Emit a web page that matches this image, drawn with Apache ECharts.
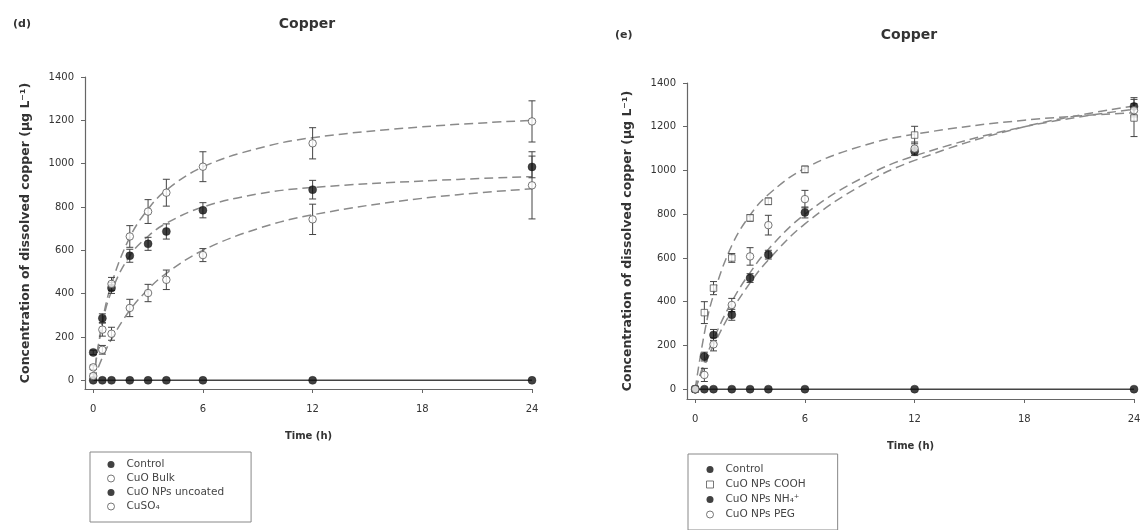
<!DOCTYPE html>
<html><head><meta charset="utf-8">
<script src="https://cdn.jsdelivr.net/npm/echarts@6/dist/echarts.min.js"></script>
<style>html,body{margin:0;padding:0;background:#fff}#c{width:1144px;height:530px}</style>
</head><body><div id="c"></div><script>
// ---------- data ----------
const times = [0, 0.5, 1, 2, 3, 4, 6, 12, 24];
const fitTimes = [0, 0.5, 1, 2, 3, 4, 6, 9, 12, 18, 24];
const xTicks = [0, 6, 12, 18, 24];
const yTicks = [0, 200, 400, 600, 800, 1000, 1200, 1400];

// panel (d)
const dControl = [0, 0, 0, 0, 0, 0, 0, 0, 0];
const dBulk = [20, 141, 215, 334, 403, 464, 578, 743, 900];
const dBulkErr = [10, 20, 30, 40, 40, 45, 30, 70, 155];
const dUncoated = [129, 287, 426, 575, 630, 687, 785, 880, 985];
const dUncoatedErr = [10, 20, 25, 30, 30, 35, 35, 43, 50];
const dCuSO4 = [60, 234, 445, 664, 779, 866, 986, 1094, 1195];
const dCuSO4Err = [10, 30, 30, 50, 55, 62, 69, 72, 95];
const dBulkFit = [0, 105, 190, 323, 420, 494, 600, 700, 764, 840, 884];
const dUncoatedFit = [0, 260, 410, 575, 665, 725, 800, 860, 890, 920, 940];
const dCuSO4Fit = [0, 270, 445, 660, 790, 878, 985, 1070, 1120, 1170, 1200];

// panel (e)
const eControl = [0, 0, 0, 0, 0, 0, 0, 0, 0];
const eCOOH = [0, 350, 462, 600, 783, 859, 1005, 1162, 1240];
const eCOOHErr = [0, 50, 30, 20, 15, 15, 15, 40, 85];
const eNH4 = [0, 149, 248, 340, 508, 615, 808, 1088, 1293];
const eNH4Err = [0, 20, 25, 25, 20, 20, 25, 20, 40];
const ePEG = [0, 65, 205, 385, 607, 750, 869, 1100, 1275];
const ePEGErr = [0, 30, 30, 30, 40, 45, 40, 30, 30];
const eCOOHFit = [0, 255, 431, 657, 796, 890, 1010, 1109, 1166, 1230, 1264];
const eNH4Fit = [0, 106, 200, 358, 486, 591, 756, 927, 1046, 1200, 1295];
const ePEGFit = [0, 123, 229, 400, 533, 640, 800, 960, 1067, 1200, 1280];

// ---------- helpers ----------
const FONT = '"DejaVu Sans", "Liberation Sans", sans-serif';
const TXT = '#333';
const AX = '#666';
const pairs = (xs, ys) => xs.map((x, i) => [x, ys[i]]);

function pts(name, gi, vals, symbol, size, open) {
  return {
    type: 'scatter', name, xAxisIndex: gi, yAxisIndex: gi,
    data: pairs(times, vals), symbol, symbolSize: size, z: 5,
    itemStyle: open ? {color: '#fff', borderColor: '#555', borderWidth: 1}
                    : {color: '#111', borderColor: '#111', borderWidth: 0.5},
    emphasis: {disabled: true}
  };
}
function fit(gi, vals) {
  return {
    type: 'line', xAxisIndex: gi, yAxisIndex: gi, data: pairs(fitTimes, vals),
    smooth: 0.4, symbol: 'none', z: 2, silent: true,
    lineStyle: {color: '#8a8a8a', width: 1.5, type: [9, 5]}
  };
}
function ctrlLine(gi, vals) {
  return {
    type: 'line', xAxisIndex: gi, yAxisIndex: gi, data: pairs(times, vals),
    symbol: 'none', z: 2, silent: true, lineStyle: {color: '#444', width: 1.5}
  };
}
function err(gi, vals, errs) {
  return {
    type: 'custom', xAxisIndex: gi, yAxisIndex: gi, silent: true, z: 4,
    data: times.map((t, i) => [t, vals[i] - errs[i], vals[i] + errs[i], errs[i]]),
    encode: {x: 0, y: [1, 2]},
    renderItem: (params, api) => {
      if (api.value(3) <= 0) return null;
      const lo = api.coord([api.value(0), api.value(1)]);
      const hi = api.coord([api.value(0), api.value(2)]);
      const w = 3.5, st = {stroke: '#444', lineWidth: 1};
      return {type: 'group', children: [
        {type: 'line', shape: {x1: lo[0], y1: lo[1], x2: hi[0], y2: hi[1]}, style: st},
        {type: 'line', shape: {x1: lo[0] - w, y1: lo[1], x2: lo[0] + w, y2: lo[1]}, style: st},
        {type: 'line', shape: {x1: hi[0] - w, y1: hi[1], x2: hi[0] + w, y2: hi[1]}, style: st}
      ]};
    }
  };
}
const plain = v => String(v);
function xAx(gi) {
  return {
    type: 'value', gridIndex: gi, min: -0.45, max: 24,
    name: 'Time (h)', nameLocation: 'middle', nameGap: 42,
    nameTextStyle: {fontFamily: FONT, fontWeight: 'bold', fontSize: 10, color: TXT},
    axisLine: {show: true, onZero: false, lineStyle: {color: AX, width: 1.2}},
    axisTick: {show: true, length: 4, lineStyle: {color: AX}, customValues: xTicks},
    axisLabel: {fontFamily: FONT, fontSize: 10, color: TXT, margin: 15, customValues: xTicks, formatter: plain},
    splitLine: {show: false}
  };
}
function yAx(gi, min) {
  return {
    type: 'value', gridIndex: gi, min, max: 1400,
    name: 'Concentration of dissolved copper (\u00b5g L\u207b\u00b9)',
    nameLocation: 'middle', nameGap: 53, nameRotate: 90,
    nameTextStyle: {fontFamily: FONT, fontWeight: 'bold', fontSize: 12.5, color: TXT},
    axisLine: {show: true, onZero: false, lineStyle: {color: AX, width: 1.2}},
    axisTick: {show: true, length: 4, lineStyle: {color: AX}, customValues: yTicks},
    axisLabel: {fontFamily: FONT, fontSize: 10, color: TXT, margin: 11, customValues: yTicks, formatter: plain},
    splitLine: {show: false}
  };
}
const openIcon = {color: '#fff', borderColor: '#555', borderWidth: 1};
const fillIcon = {color: '#111', borderColor: '#111', borderWidth: 0};
function legend(left, top, pad, gap, items) {
  return {
    orient: 'vertical', left, top, padding: pad, itemGap: gap, height: 120,
    itemWidth: 7, itemHeight: 7, selectedMode: false,
    borderColor: '#888', borderWidth: 1, borderRadius: 0,
    textStyle: {fontFamily: FONT, fontSize: 10.5, color: '#444', padding: [0, 0, 0, 7]},
    data: items
  };
}

const option = {
  animation: false,
  backgroundColor: '#fff',
  title: [
    {text: '(d)', left: 8, top: 14, textStyle: {fontFamily: FONT, fontSize: 11, fontWeight: 'bold', color: TXT}},
    {text: 'Copper', left: 302, top: 12, textAlign: 'center', textStyle: {fontFamily: FONT, fontSize: 14, fontWeight: 'bold', color: TXT}},
    {text: '(e)', left: 610, top: 25, textStyle: {fontFamily: FONT, fontSize: 11, fontWeight: 'bold', color: TXT}},
    {text: 'Copper', left: 904, top: 23, textAlign: 'center', textStyle: {fontFamily: FONT, fontSize: 14, fontWeight: 'bold', color: TXT}}
  ],
  grid: [
    {left: 85, top: 77, width: 447, height: 312},
    {left: 687, top: 83, width: 447, height: 316}
  ],
  xAxis: [xAx(0), xAx(1)],
  yAxis: [yAx(0, -40), yAx(1, -45)],
  legend: [
    legend(90, 452, [7, 27, 10, 17], 3, [
      {name: 'Control', icon: 'circle', itemStyle: fillIcon},
      {name: 'CuO Bulk', icon: 'circle', itemStyle: openIcon},
      {name: 'CuO NPs uncoated', icon: 'circle', itemStyle: fillIcon},
      {name: 'CuSO\u2084', icon: 'circle', itemStyle: openIcon}
    ]),
    legend(688, 454, [10, 32, 10, 18], 4, [
      {name: 'Control', icon: 'circle', itemStyle: fillIcon},
      {name: 'CuO NPs COOH', icon: 'rect', itemStyle: openIcon},
      {name: 'CuO NPs NH\u2084\u207a', icon: 'circle', itemStyle: fillIcon},
      {name: 'CuO NPs PEG', icon: 'circle', itemStyle: openIcon}
    ])
  ],
  series: [
    // panel d
    ctrlLine(0, dControl),
    fit(0, dBulkFit), fit(0, dUncoatedFit), fit(0, dCuSO4Fit),
    err(0, dBulk, dBulkErr), err(0, dUncoated, dUncoatedErr), err(0, dCuSO4, dCuSO4Err),
    pts('Control', 0, dControl, 'circle', 8, false),
    pts('CuO Bulk', 0, dBulk, 'circle', 7.5, true),
    pts('CuO NPs uncoated', 0, dUncoated, 'circle', 8, false),
    pts('CuSO\u2084', 0, dCuSO4, 'circle', 7.5, true),
    // panel e
    ctrlLine(1, eControl),
    fit(1, eCOOHFit), fit(1, eNH4Fit), fit(1, ePEGFit),
    err(1, eCOOH, eCOOHErr), err(1, eNH4, eNH4Err), err(1, ePEG, ePEGErr),
    pts('Control', 1, eControl, 'circle', 8, false),
    pts('CuO NPs COOH', 1, eCOOH, 'rect', 6.5, true),
    pts('CuO NPs NH\u2084\u207a', 1, eNH4, 'circle', 8, false),
    pts('CuO NPs PEG', 1, ePEG, 'circle', 7.5, true)
  ]
};
const chart = echarts.init(document.getElementById('c'), null, {renderer: 'canvas'});
chart.setOption(option);
</script></body></html>
